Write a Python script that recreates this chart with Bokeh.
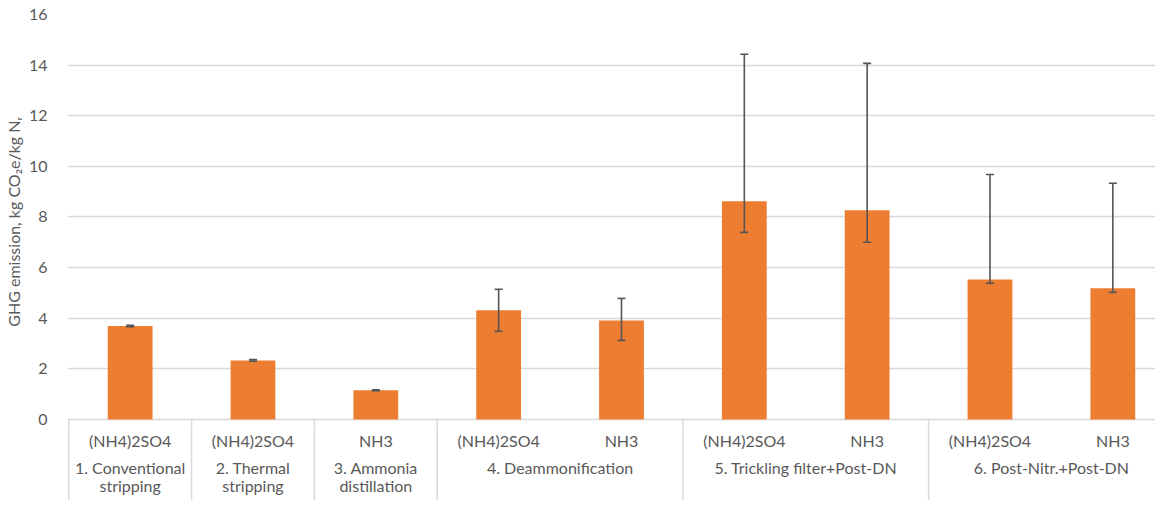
from bokeh.plotting import figure
from bokeh.models import Range1d, FixedTicker, ColumnDataSource, Whisker, TeeHead
from bokeh.layouts import column
from bokeh.core.properties import value
from bokeh.embed import file_html
from bokeh.resources import INLINE
import numpy as np

# ---- data ----
sub_labels = ["(NH4)2SO4", "(NH4)2SO4", "NH3", "(NH4)2SO4", "NH3",
              "(NH4)2SO4", "NH3", "(NH4)2SO4", "NH3"]
group_line1 = ["1. Conventional", "2. Thermal", "3. Ammonia", "4. Deammonification",
               "5. Trickling filter+Post-DN", "6. Post-Nitr.+Post-DN"]
group_line2 = ["stripping", "stripping", "distillation", "", "", ""]
group_sizes = [1, 1, 1, 2, 2, 2]
values = [3.69, 2.33, 1.15, 4.31, 3.91, 8.62, 8.26, 5.53, 5.18]
err_upper = [3.72, 2.36, 1.17, 5.14, 4.78, 14.43, 14.07, 9.68, 9.33]
err_lower = [3.66, 2.30, 1.13, 3.48, 3.12, 7.39, 7.00, 5.38, 5.02]
y_ticks = [0, 2, 4, 6, 8, 10, 12, 14, 16]

# ---- style ----
FONT = "Lato"
TXT = "#595959"
ORANGE = "#ED7D31"
GRID = "#D9D9D9"
ERR = "#555555"
W = 1155
LEFT = 62
TOP = 14
PX_PER_CAT = 123.4
PX_PER_UNIT = 25.31
Y_MIN1 = -0.4          # top panel extends a little below zero
H1 = TOP + int(round((16 - Y_MIN1) * PX_PER_UNIT))
H2 = 500 - H1

x_end = (W - LEFT) / PX_PER_CAT - 0.01
xr = Range1d(-0.01, x_end)

xc = [i + 0.5 for i in range(len(values))]
src = ColumnDataSource(dict(x=xc, top=values, upper=err_upper, lower=err_lower))
bounds = [0] + [int(b) for b in np.cumsum(group_sizes)]

# ---- main chart ----
p = figure(width=W, height=H1, x_range=xr, y_range=Range1d(Y_MIN1, 16),
           output_backend="svg", toolbar_location=None, x_axis_type=None,
           min_border_left=LEFT, min_border_right=0, min_border_top=TOP, min_border_bottom=0)
p.outline_line_color = None
p.vbar(x="x", top="top", width=45 / PX_PER_CAT, bottom=0, source=src,
       fill_color=ORANGE, line_color=None)
wk = Whisker(source=src, base="x", upper="upper", lower="lower",
             line_color=ERR, line_width=1.6, level="overlay",
             upper_head=TeeHead(size=8, line_color=ERR, line_width=1.6),
             lower_head=TeeHead(size=8, line_color=ERR, line_width=1.6))
p.add_layout(wk)
p.segment(x0=bounds, x1=bounds, y0=[0] * len(bounds), y1=[Y_MIN1] * len(bounds),
          line_color=GRID, line_width=1.5)

yax = p.yaxis[0]
yax.ticker = FixedTicker(ticks=y_ticks)
yax.axis_line_color = None
yax.major_tick_line_color = None
yax.minor_tick_line_color = None
yax.major_label_standoff = 14
yax.major_label_text_font = FONT
yax.major_label_text_font_size = "16px"
yax.major_label_text_color = TXT
yax.axis_label = "GHG emission, kg CO\u2082e/kg N\u1d63"
yax.axis_label_text_font = FONT
yax.axis_label_text_font_size = "16px"
yax.axis_label_text_font_style = "normal"
yax.axis_label_text_color = TXT
yax.axis_label_standoff = 3
p.ygrid.ticker = FixedTicker(ticks=y_ticks)
p.ygrid.grid_line_color = GRID
p.ygrid.grid_line_width = 1.5
p.xgrid.grid_line_color = None

# ---- category label panel ----
y_bot = Y_MIN1 - H2 / PX_PER_UNIT
q = figure(width=W, height=H2, x_range=xr, y_range=Range1d(y_bot, Y_MIN1),
           output_backend="svg", toolbar_location=None, x_axis_type=None, y_axis_type=None,
           min_border_left=LEFT, min_border_right=0, min_border_top=0, min_border_bottom=0)
q.outline_line_color = None
q.xgrid.grid_line_color = None
q.ygrid.grid_line_color = None

q.segment(x0=bounds, x1=bounds, y0=[Y_MIN1] * len(bounds), y1=[y_bot] * len(bounds),
          line_color=GRID, line_width=1.5)

q.text(x=xc, y=[-0.84] * len(xc), text=sub_labels, text_align="center",
       text_baseline="middle", text_font=value(FONT), text_font_size="16px", text_color=TXT)
gc = [(bounds[i] + bounds[i + 1]) / 2 for i in range(len(group_sizes))]
q.text(x=gc, y=[-1.92] * len(gc), text=group_line1, text_align="center",
       text_baseline="middle", text_font=value(FONT), text_font_size="16px", text_color=TXT)
q.text(x=gc, y=[-2.62] * len(gc), text=group_line2, text_align="center",
       text_baseline="middle", text_font=value(FONT), text_font_size="16px", text_color=TXT)

layout = column(p, q, spacing=0)
open("out.html", "w").write(file_html(layout, INLINE))
